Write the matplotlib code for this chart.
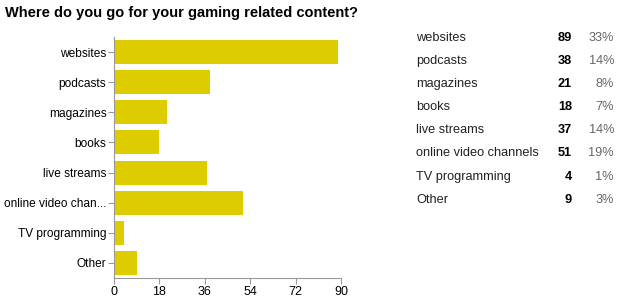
import matplotlib.pyplot as plt

categories = ["websites", "podcasts", "magazines", "books", "live streams",
              "online video channels", "TV programming", "Other"]
short_labels = ["websites", "podcasts", "magazines", "books", "live streams",
                "online video chan...", "TV programming", "Other"]
counts = [89, 38, 21, 18, 37, 51, 4, 9]
percents = ["33%", "14%", "8%", "7%", "14%", "19%", "1%", "3%"]
xticks = [0, 18, 36, 54, 72, 90]

plt.rcParams['font.family'] = ['Liberation Sans', 'DejaVu Sans']

fig = plt.figure(figsize=(6.25, 3.03), dpi=100)
ax = fig.add_axes([114 / 625, 1 - 278 / 303, 227 / 625, 241 / 303])

pos = list(range(len(categories)))
ax.barh(pos, counts, height=0.8, color="#DDCC00")
ax.set_ylim(len(categories) - 0.5, -0.5)
ax.set_xlim(0, 90)
ax.set_xticks(xticks)
ax.set_yticks(pos)
ax.set_yticklabels(short_labels, fontsize=8.6)
ax.tick_params(axis='x', labelsize=9, length=4, color="#999999", pad=2)
ax.tick_params(axis='y', length=4, color="#999999", pad=1.5)

for side in ["top", "right"]:
    ax.spines[side].set_visible(False)
for side in ["left", "bottom"]:
    ax.spines[side].set_color("#999999")

fig.text(5 / 625, 1 - 13 / 303, "Where do you go for your gaming related content?",
         fontsize=10.5, fontweight='bold', va='center', ha='left')

for i, (c, n, p) in enumerate(zip(categories, counts, percents)):
    y = 1 - (38 + i * 23.1) / 303
    fig.text(416 / 625, y, c, fontsize=9.2, va='center', ha='left', color="#222222")
    fig.text(572 / 625, y, str(n), fontsize=9.2, va='center', ha='right',
             fontweight='bold', color="#000000")
    fig.text(614 / 625, y, p, fontsize=9.2, va='center', ha='right', color="#666666")

plt.savefig("out.png", dpi=100)
